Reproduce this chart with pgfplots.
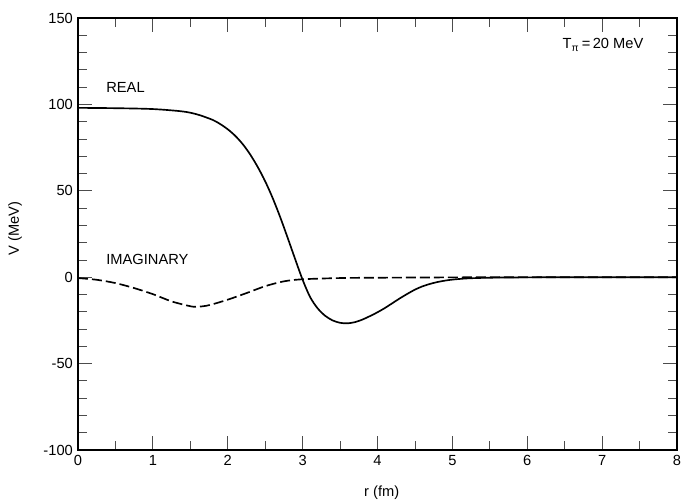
\documentclass[border=0pt]{standalone}
\usepackage{fontspec}
\setmainfont{Liberation Sans}
\usepackage{pgfplots}
\pgfplotsset{compat=1.18}

\begin{document}
\fontsize{11}{13}\selectfont
\begin{tikzpicture}
\begin{axis}[
    scale only axis,
    width=449.25pt,
    height=324pt,
    xmin=0, xmax=8,
    ymin=-100, ymax=150,
    xtick={0,1,...,8},
    ytick={-100,-50,0,50,100,150},
    yticklabels={-100,-50,0,50,100,150},
    xticklabels={0,1,2,3,4,5,6,7,8},
    minor x tick num=1,
    minor y tick num=4,
    tick align=inside,
    major tick length=10.5pt,
    minor tick length=6.75pt,
    tick style={line width=0.6pt,black!70},
    axis line style={line width=1.1pt},
    every tick label/.style={font=\fontsize{11}{13}\selectfont},
    xlabel={r (fm)},
    ylabel={V (MeV)},
    every axis x label/.style={at={(axis description cs:0.507,-0.0995)},anchor=center},
    every axis y label/.style={at={(axis description cs:-0.105,0.512)},rotate=90,anchor=center},
    label style={font=\fontsize{11}{13}\selectfont},
    clip=true,
]
% real part
\addplot[black, line width=1.25pt, smooth] coordinates {
    (0,98.0)(0.5,97.8)(1.0,97.3)(1.4,95.9)(1.6,94.1)(1.8,91.0)(1.9,88.6)
    (2.0,85.6)(2.1,81.8)(2.2,77.0)(2.3,71.0)(2.4,63.8)(2.5,55.5)(2.6,45.8)
    (2.7,34.8)(2.8,22.8)(2.9,10.5)(3.0,-1.5)(3.1,-11.5)(3.2,-18.0)(3.3,-22.3)
    (3.4,-25.0)(3.5,-26.4)(3.6,-26.7)(3.7,-26.0)(3.8,-24.5)(3.9,-22.5)(4.0,-20.3)
    (4.1,-17.8)(4.2,-15.0)(4.3,-12.2)(4.4,-9.6)(4.5,-7.2)(4.6,-5.3)(4.7,-3.9)
    (4.8,-2.8)(4.9,-2.0)(5.0,-1.4)(5.2,-0.7)(5.5,-0.3)(6.0,-0.1)(7.0,0)(8.0,0)
};
% imaginary part
\addplot[black, line width=1.25pt, smooth, dash pattern=on 7.5pt off 3pt] coordinates {
    (0,-0.5)(0.25,-1.5)(0.5,-3.4)(0.75,-6.3)(1.0,-9.8)(1.25,-14.0)(1.5,-16.8)
    (1.6,-17.1)(1.75,-16.2)(2.0,-13.0)(2.25,-9.2)(2.5,-5.2)(2.75,-2.4)
    (3.0,-1.2)(3.5,-0.5)(4.0,-0.3)(5.0,-0.1)(6.0,0)(8.0,0)
};
\node[anchor=west] at (axis cs:0.31,110) {REAL};
\node[anchor=west] at (axis cs:0.31,10.3) {IMAGINARY};
\node[anchor=east] at (axis cs:7.62,134.4) {T\textsubscript{π}\,=\,20 MeV};
\end{axis}
\pgfresetboundingbox
\path[use as bounding box] ([xshift=-58.5pt,yshift=-38.25pt]current axis.south west)
    rectangle ([xshift=3.75pt,yshift=13.5pt]current axis.north east);
\end{tikzpicture}
\end{document}
